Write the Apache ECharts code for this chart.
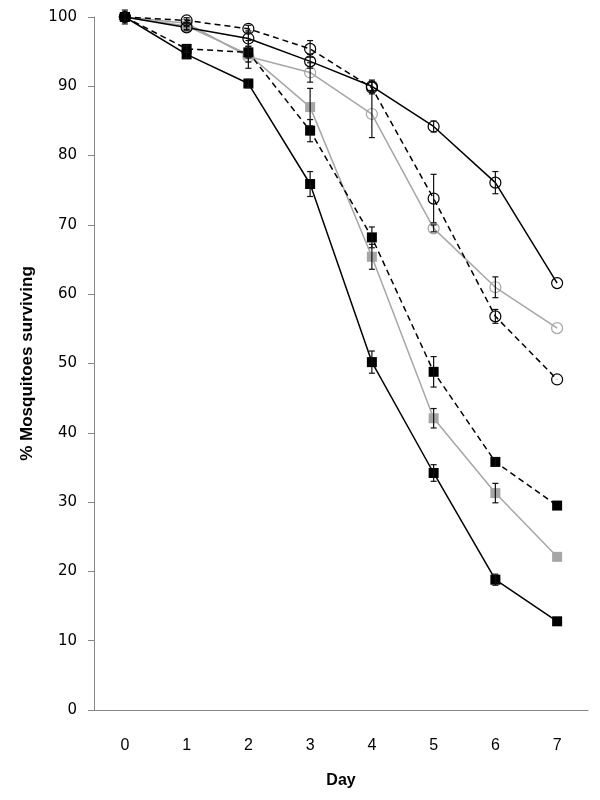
<!DOCTYPE html>
<html>
<head>
<meta charset="utf-8">
<script src="https://cdn.jsdelivr.net/npm/echarts@6/dist/echarts.min.js"></script>
<style>
  html, body { margin: 0; padding: 0; background: #fff; }
  #chart { width: 600px; height: 800px; }
</style>
</head>
<body>
<div id="chart"></div>
<script>
  // days on x axis
  var days = ['0', '1', '2', '3', '4', '5', '6', '7'];
  var yTicks = [0, 10, 20, 30, 40, 50, 60, 70, 80, 90, 100];

  // % surviving
  var blackCircle = [100, 98.5, 96.9, 93.6, 90.0, 84.2, 76.1, 61.6];
  var blackCircleErr = [0, 0.5, 1.1, 1.0, 0.9, 0.8, 1.6, 0];
  var dashedCircle = [100, 99.5, 98.3, 95.4, 89.8, 73.8, 56.8, 47.7];
  var dashedCircleErr = [0, 0.4, 0.5, 1.2, 0.9, 3.5, 1.0, 0];
  var greyCircle = [100, 99.1, 94.3, 92.0, 86.0, 69.5, 61.0, 55.1];
  var greyCircleErr = [0, 0.5, 0.8, 1.4, 3.4, 0.5, 1.5, 0];
  var blackSquare = [100, 94.6, 90.4, 75.9, 50.2, 34.2, 18.8, 12.8];
  var blackSquareErr = [1.0, 0.5, 0.6, 1.8, 1.6, 1.2, 0.8, 0];
  var dashedSquare = [100, 95.4, 94.9, 83.6, 68.2, 48.8, 35.8, 29.5];
  var dashedSquareErr = [0, 0.5, 0.8, 1.6, 1.5, 2.2, 0.6, 0];
  var greySquare = [100, 98.7, 94.6, 87.0, 65.4, 42.1, 31.3, 22.1];
  var greySquareErr = [0, 0.5, 2.0, 2.7, 1.8, 1.4, 1.4, 0];

  var GREY = '#a6a6a6';

  function lineSeries(name, data, color, dashed, symbol) {
    var isSquare = symbol === 'rect';
    return {
      name: name,
      type: 'line',
      data: data,
      symbol: symbol,
      symbolSize: isSquare ? 10 : 11,
      z: 3,
      lineStyle: { color: color, width: 1.5, type: dashed ? [6, 4] : 'solid' },
      itemStyle: isSquare
        ? { color: color, borderWidth: 0 }
        : { color: 'rgba(255,255,255,0)', borderColor: color, borderWidth: 1.2 },
      emphasis: { disabled: true },
      animation: false
    };
  }

  function errSeries(vals, errs) {
    var d = [];
    for (var i = 0; i < vals.length; i++) {
      if (errs[i] > 0) d.push([i, vals[i], errs[i]]);
    }
    return {
      type: 'custom',
      z: 4,
      data: d,
      animation: false,
      silent: true,
      renderItem: function (params, api) {
        var top = api.coord([api.value(0), api.value(1) + api.value(2)]);
        var bot = api.coord([api.value(0), api.value(1) - api.value(2)]);
        var st = { stroke: '#111', lineWidth: 1.2 };
        return {
          type: 'group',
          children: [
            { type: 'line', shape: { x1: top[0], y1: top[1], x2: bot[0], y2: bot[1] }, style: st },
            { type: 'line', shape: { x1: top[0] - 3, y1: top[1], x2: top[0] + 3, y2: top[1] }, style: st },
            { type: 'line', shape: { x1: bot[0] - 3, y1: bot[1], x2: bot[0] + 3, y2: bot[1] }, style: st }
          ]
        };
      }
    };
  }

  var myChart = echarts.init(document.getElementById('chart'));
  myChart.setOption({
    backgroundColor: '#fff',
    grid: { left: 94, right: 12, top: 17, bottom: 90 },
    xAxis: {
      type: 'category',
      data: days,
      boundaryGap: true,
      name: 'Day',
      nameLocation: 'middle',
      nameGap: 63,
      nameTextStyle: { fontFamily: 'Liberation Sans', fontWeight: 'bold', fontSize: 16, color: '#000' },
      axisLine: { lineStyle: { color: '#868686', width: 1 } },
      axisTick: { show: false },
      axisLabel: { fontFamily: 'Liberation Sans', fontSize: 16, color: '#000', margin: 28 },
      splitLine: { show: false }
    },
    yAxis: {
      type: 'value',
      min: 0,
      max: 100,
      interval: 10,
      name: '% Mosquitoes surviving',
      nameLocation: 'middle',
      nameGap: 58,
      nameRotate: 90,
      nameTextStyle: { fontFamily: 'Liberation Sans', fontWeight: 'bold', fontSize: 17, color: '#000' },
      axisLine: { show: true, lineStyle: { color: '#868686', width: 1 } },
      axisTick: { show: true, inside: false, length: 6, lineStyle: { color: '#868686' } },
      axisLabel: {
        fontFamily: 'DejaVu Sans', fontSize: 15, color: '#000', margin: 17,
        formatter: function (v) { return yTicks.indexOf(v) >= 0 ? String(v) : ''; }
      },
      splitLine: { show: false }
    },
    series: [
      lineSeries('grey circle', greyCircle, GREY, false, 'circle'),
      lineSeries('grey square', greySquare, GREY, false, 'rect'),
      lineSeries('black circle', blackCircle, '#000', false, 'circle'),
      lineSeries('dashed circle', dashedCircle, '#000', true, 'circle'),
      lineSeries('black square', blackSquare, '#000', false, 'rect'),
      lineSeries('dashed square', dashedSquare, '#000', true, 'rect'),
      errSeries(greyCircle, greyCircleErr),
      errSeries(greySquare, greySquareErr),
      errSeries(blackCircle, blackCircleErr),
      errSeries(dashedCircle, dashedCircleErr),
      errSeries(blackSquare, blackSquareErr),
      errSeries(dashedSquare, dashedSquareErr)
    ]
  });
</script>
</body>
</html>
